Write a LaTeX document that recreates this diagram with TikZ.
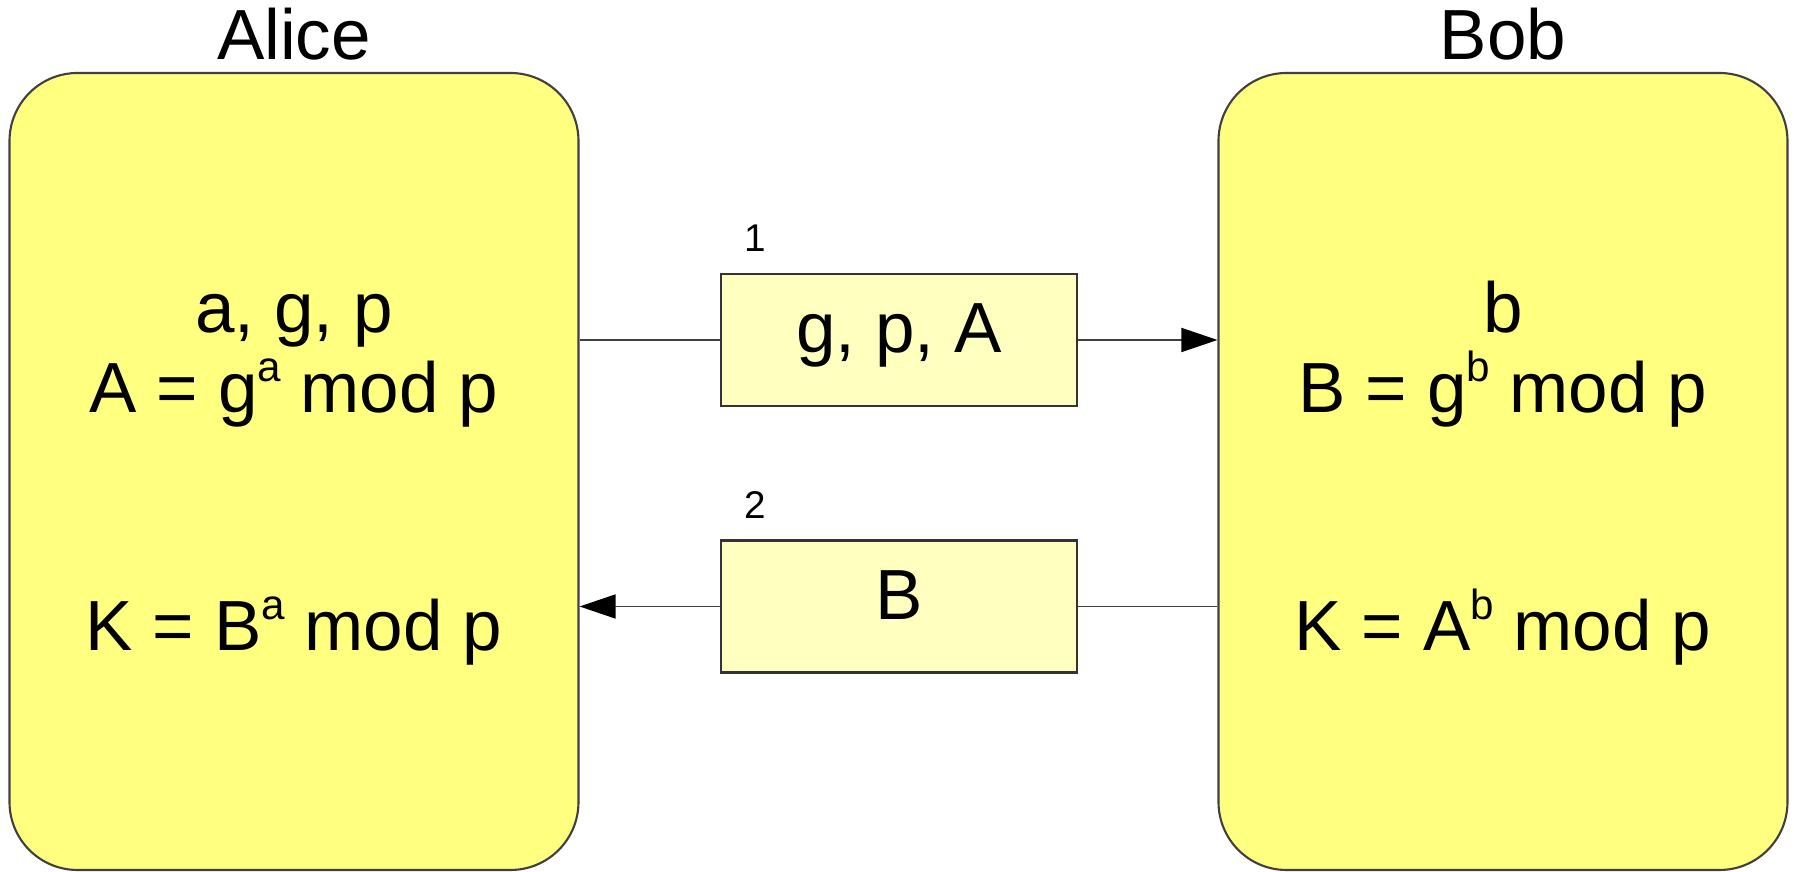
\documentclass[tikz,border=0pt]{standalone}
\usepackage{fontspec}
\setmainfont{Liberation Sans}
\usepackage{tikz}
\usetikzlibrary{arrows.meta}

\definecolor{partyfill}{RGB}{255,255,128}
\definecolor{msgfill}{RGB}{255,255,192}
\newcommand{\supr}[1]{\raisebox{0.45em}{\fontsize{12}{12}\selectfont #1}}

\begin{document}
\begin{tikzpicture}[>=Stealth,
  party/.style={draw=black!75, line width=0.6pt, fill=partyfill, rounded corners=0.68cm,
    minimum width=5.69cm, minimum height=7.97cm, inner sep=0pt},
  msg/.style={draw=black!80, line width=0.6pt, fill=msgfill,
    minimum width=3.56cm, minimum height=1.32cm, inner sep=0pt,
    font=\fontsize{20.2}{23}\selectfont, text height=0.72em, text depth=0pt},
  term/.style={anchor=base, inner sep=0pt, font=\fontsize{20.2}{23}\selectfont},
  num/.style={inner sep=0pt, font=\fontsize{11}{12}\selectfont},
  wire/.style={draw=black!75, line width=0.5pt},
  tip/.style={-{Triangle[length=0.36cm, width=0.24cm, black]}}]
  \useasboundingbox (0,0) rectangle (17.94,8.72);
  % parties
  \node[party] (alice) at (2.94,4.005) {};
  \node[party] (bob) at (15.03,4.005) {};
  \node[term] (alicename) at (2.94,8.12) {Alice};
  \node[term] (bobname) at (15.03,8.12) {Bob};
  % Alice side
  \node[term] (alicevars) at (2.94,5.39) {a, g, p};
  \node[term] (alicepub) at (2.94,4.59) {A = g\supr{a} mod p};
  \node[term] (alicekey) at (2.94,2.21) {K = B\supr{a} mod p};
  % Bob side
  \node[term] (bobvars) at (15.03,5.39) {b};
  \node[term] (bobpub) at (15.03,4.59) {B = g\supr{b} mod p};
  \node[term] (bobkey) at (15.03,2.21) {K = A\supr{b} mod p};
  % messages
  \node[msg] (msg1) at (8.99,5.32) {g, p, A};
  \node[msg] (msg2) at (8.99,2.655) {B};
  \node[num] (num1) at (7.55,6.34) {1};
  \node[num] (num2) at (7.55,3.67) {2};
  % connectors
  \draw[wire] (msg1.west -| alice.east) -- (msg1.west);
  \draw[wire, tip] (msg1.east) -- (msg1.east -| bob.west);
  \draw[wire] (msg2.east -| bob.west) -- (msg2.east);
  \draw[wire, tip] (msg2.west) -- (msg2.west -| alice.east);
\end{tikzpicture}
\end{document}
